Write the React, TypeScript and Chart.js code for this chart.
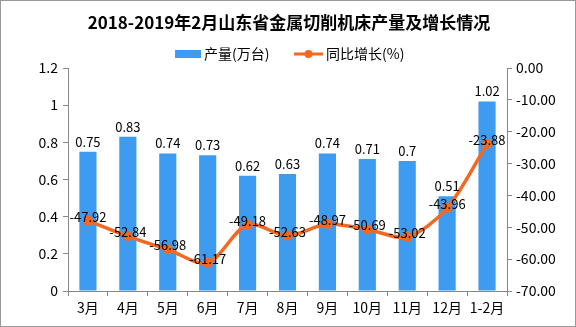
import React, { useEffect, useRef } from "react";
import { Chart, registerables } from "chart.js";
Chart.register(...registerables);

const TITLE = "2018-2019年2月山东省金属切削机床产量及增长情况";
const categories = ["3月", "4月", "5月", "6月", "7月", "8月", "9月", "10月", "11月", "12月", "1-2月"];
const output = [0.75, 0.83, 0.74, 0.73, 0.62, 0.63, 0.74, 0.71, 0.7, 0.51, 1.02];
const outputLabels = ["0.75", "0.83", "0.74", "0.73", "0.62", "0.63", "0.74", "0.71", "0.7", "0.51", "1.02"];
const growth = [-47.92, -52.84, -56.98, -61.17, -49.18, -52.63, -48.97, -50.69, -53.02, -43.96, -23.88];
const seriesNames = ["产量(万台)", "同比增长(%)"];

const BLUE = "#3d9cf0";
const ORANGE = "#f4681f";
const FONT = "'Noto Sans CJK SC', sans-serif";

const overlay = {
  id: "overlay",
  afterDatasetsDraw(chart: any) {
    const ctx = chart.ctx;
    ctx.save();
    ctx.fillStyle = "#000";
    ctx.font = `bold 17px ${FONT}`;
    ctx.textAlign = "center";
    ctx.textBaseline = "middle";
    ctx.fillText(TITLE, 288, 22);
    ctx.font = `14px ${FONT}`;
    ctx.textAlign = "left";
    const ly = 53;
    ctx.fillStyle = BLUE;
    ctx.fillRect(174, ly - 4, 26, 8);
    ctx.fillStyle = "#000";
    ctx.fillText(seriesNames[0], 203, ly);
    ctx.strokeStyle = ORANGE;
    ctx.lineWidth = 3;
    ctx.beginPath();
    ctx.moveTo(293, ly);
    ctx.lineTo(322, ly);
    ctx.stroke();
    ctx.fillStyle = ORANGE;
    ctx.beginPath();
    ctx.arc(307.5, ly, 4, 0, Math.PI * 2);
    ctx.fill();
    ctx.fillStyle = "#000";
    ctx.fillText(seriesNames[1], 325, ly);
    ctx.font = `13px ${FONT}`;
    ctx.textAlign = "center";
    const barMeta = chart.getDatasetMeta(0);
    barMeta.data.forEach((el: any, i: number) => {
      ctx.fillText(outputLabels[i], el.x, el.y - 10);
    });
    const lineMeta = chart.getDatasetMeta(1);
    lineMeta.data.forEach((el: any, i: number) => {
      ctx.fillText(growth[i].toFixed(2), el.x, el.y - 4);
    });
    ctx.restore();
  },
};

export default function App() {
  const ref = useRef<HTMLCanvasElement>(null);
  useEffect(() => {
    const chart = new Chart(ref.current!, {
      type: "bar",
      data: {
        labels: categories,
        datasets: [
          {
            type: "bar",
            label: seriesNames[0],
            data: output,
            backgroundColor: BLUE,
            yAxisID: "y",
            barPercentage: 0.43,
            categoryPercentage: 1,
            order: 2,
          },
          {
            type: "line",
            label: seriesNames[1],
            data: growth,
            borderColor: ORANGE,
            backgroundColor: ORANGE,
            borderWidth: 3.5,
            pointRadius: 5,
            pointBackgroundColor: ORANGE,
            pointBorderWidth: 0,
            tension: 0.3,
            yAxisID: "y1",
            order: 1,
          } as any,
        ],
      },
      options: {
        animation: false,
        responsive: false,
        maintainAspectRatio: false,
        layout: { padding: { top: 67, bottom: 0, left: 0, right: 0 } },
        plugins: { legend: { display: false }, title: { display: false }, tooltip: { enabled: false } },
        scales: {
          x: {
            grid: { display: true, drawOnChartArea: false, drawTicks: true, tickLength: 5, color: "#888", offset: true },
            border: { display: true, color: "#888" },
            ticks: { color: "#000", font: { family: FONT, size: 14 }, maxRotation: 0, padding: 3 },
            afterFit: (s: any) => { s.height = 35; },
          },
          y: {
            position: "left",
            min: 0,
            max: 1.2,
            ticks: { stepSize: 0.2, color: "#000", font: { family: FONT, size: 14 }, padding: 5, callback: (v: any) => String(+Number(v).toFixed(1)) },
            grid: { display: true, drawOnChartArea: false, drawTicks: true, tickLength: 5, color: "#888" },
            border: { display: true, color: "#888" },
            afterFit: (s: any) => { s.width = 67; },
          },
          y1: {
            position: "right",
            min: -70,
            max: 0,
            ticks: { stepSize: 10, color: "#000", font: { family: FONT, size: 14 }, padding: 4, callback: (v: any) => Number(v).toFixed(2) },
            grid: { display: true, drawOnChartArea: false, drawTicks: true, tickLength: 5, color: "#888" },
            border: { display: true, color: "#888" },
            afterFit: (s: any) => { s.width = 68; },
          },
        },
      },
      plugins: [overlay],
    });
    return () => chart.destroy();
  }, []);
  return (
    <div style={{ position: "absolute", left: 0, top: 0, width: 576, height: 327, boxSizing: "border-box", border: "1px solid #999", background: "#fff" }}>
      <canvas ref={ref} width={574} height={325} style={{ display: "block" }} />
    </div>
  );
}
